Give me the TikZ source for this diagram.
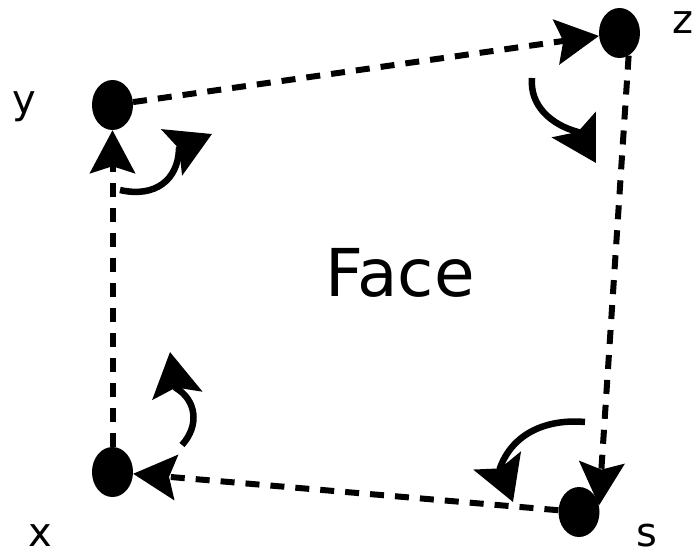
\documentclass[tikz,border=0pt]{standalone}
\usepackage{fontspec}
\setmainfont{DejaVu Sans}
\usetikzlibrary{arrows.meta,shapes.geometric}

\begin{document}
\begin{tikzpicture}[
x=1pt, y=1pt,
vertex/.style={
ellipse,
fill=black,
inner sep=0pt,
minimum width=41pt,
minimum height=50pt
},
lbl/.style={
anchor=base,
font=\fontsize{40}{48}\selectfont
},
edge/.style={
line width=6pt,
dash pattern=on 14pt off 11pt,
-{Stealth[length=43pt,width=45pt,inset=7pt]}
},
turn/.style={
line width=6.5pt,
-{Stealth[length=44pt,width=50pt,inset=8pt]}
}
]

\useasboundingbox (0,0) rectangle (696,-555);

\node[vertex] (Y) at (112.5,-105) {};
\node[vertex] (Z) at (619.5,-33) {};
\node[vertex] (X) at (112.5,-472) {};
\node[vertex] (S) at (579,-512) {};

\node[lbl] (Yl) at (24,-113) {y};
\node[lbl] (Zl) at (683,-33) {z};
\node[lbl] (Xl) at (40,-546) {x};
\node[lbl] (Sl) at (647,-546) {s};

\node[anchor=base, font=\fontsize{66}{78}\selectfont] (F) at (400,-296) {Face};

\draw[edge] (X) -- (Y);
\draw[edge] (Y) -- (Z);
\draw[edge] (Z.-68) -- (S.18);
\draw[edge] (S) -- (X);

% turning arrows at the corners
\draw[turn] (120,-190) .. controls (155,-198) and (178,-180) .. (179,-149) -- (212,-134);
\draw[turn] (532,-78) to[out=-95,in=165] (578,-132) -- (596,-163);
\draw[turn] (182,-445) .. controls (200,-425) and (196,-400) .. (176,-388) -- (170,-352);
\draw[turn] (585,-422) to[out=175,in=70] (500,-468) -- (513,-502);

\end{tikzpicture}
\end{document}
